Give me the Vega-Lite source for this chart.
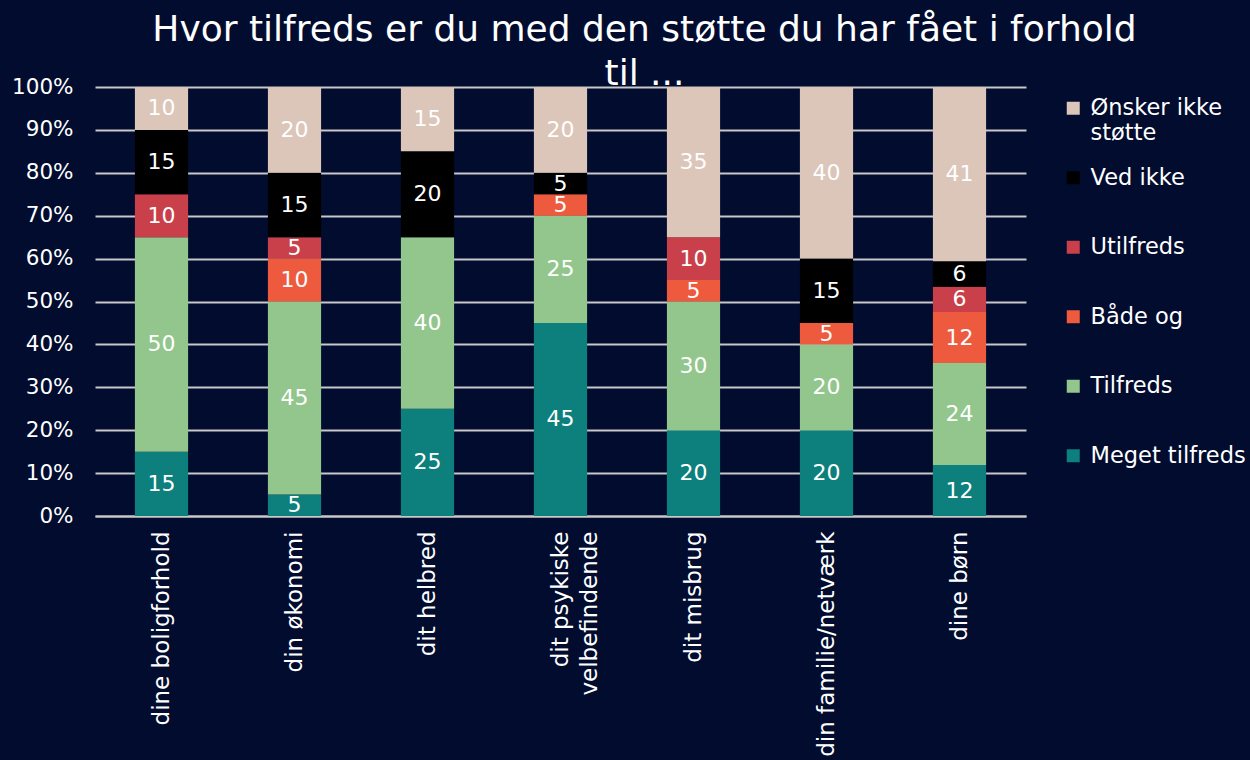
{
  "$schema": "https://vega.github.io/schema/vega-lite/v6.json",
  "width": 931,
  "height": 429,
  "autosize": {"type": "none"},
  "padding": {"left": 95, "top": 87, "right": 224, "bottom": 244},
  "background": "#010c2e",
  "config": {
    "font": "DejaVu Sans",
    "view": {"stroke": null},
    "axis": {"labelColor": "#ffffff", "titleColor": "#ffffff"}
  },
  "title": {
    "text": ["Hvor tilfreds er du med den støtte du har fået i forhold", "til ..."],
    "fontSize": 36,
    "fontWeight": "normal",
    "color": "#ffffff",
    "anchor": "middle",
    "dx": 84,
    "offset": -17,
    "lineHeight": 44
  },
  "data": {
    "values": [
      {"omraade": "dine boligforhold", "svar": "Meget tilfreds", "niveau": 1, "andel": 15},
      {"omraade": "dine boligforhold", "svar": "Tilfreds", "niveau": 2, "andel": 50},
      {"omraade": "dine boligforhold", "svar": "Utilfreds", "niveau": 4, "andel": 10},
      {"omraade": "dine boligforhold", "svar": "Ved ikke", "niveau": 5, "andel": 15},
      {"omraade": "dine boligforhold", "svar": "Ønsker ikke støtte", "niveau": 6, "andel": 10},
      {"omraade": "din økonomi", "svar": "Meget tilfreds", "niveau": 1, "andel": 5},
      {"omraade": "din økonomi", "svar": "Tilfreds", "niveau": 2, "andel": 45},
      {"omraade": "din økonomi", "svar": "Både og", "niveau": 3, "andel": 10},
      {"omraade": "din økonomi", "svar": "Utilfreds", "niveau": 4, "andel": 5},
      {"omraade": "din økonomi", "svar": "Ved ikke", "niveau": 5, "andel": 15},
      {"omraade": "din økonomi", "svar": "Ønsker ikke støtte", "niveau": 6, "andel": 20},
      {"omraade": "dit helbred", "svar": "Meget tilfreds", "niveau": 1, "andel": 25},
      {"omraade": "dit helbred", "svar": "Tilfreds", "niveau": 2, "andel": 40},
      {"omraade": "dit helbred", "svar": "Ved ikke", "niveau": 5, "andel": 20},
      {"omraade": "dit helbred", "svar": "Ønsker ikke støtte", "niveau": 6, "andel": 15},
      {"omraade": "dit psykiske velbefindende", "svar": "Meget tilfreds", "niveau": 1, "andel": 45},
      {"omraade": "dit psykiske velbefindende", "svar": "Tilfreds", "niveau": 2, "andel": 25},
      {"omraade": "dit psykiske velbefindende", "svar": "Både og", "niveau": 3, "andel": 5},
      {"omraade": "dit psykiske velbefindende", "svar": "Ved ikke", "niveau": 5, "andel": 5},
      {"omraade": "dit psykiske velbefindende", "svar": "Ønsker ikke støtte", "niveau": 6, "andel": 20},
      {"omraade": "dit misbrug", "svar": "Meget tilfreds", "niveau": 1, "andel": 20},
      {"omraade": "dit misbrug", "svar": "Tilfreds", "niveau": 2, "andel": 30},
      {"omraade": "dit misbrug", "svar": "Både og", "niveau": 3, "andel": 5},
      {"omraade": "dit misbrug", "svar": "Utilfreds", "niveau": 4, "andel": 10},
      {"omraade": "dit misbrug", "svar": "Ønsker ikke støtte", "niveau": 6, "andel": 35},
      {"omraade": "din familie/netværk", "svar": "Meget tilfreds", "niveau": 1, "andel": 20},
      {"omraade": "din familie/netværk", "svar": "Tilfreds", "niveau": 2, "andel": 20},
      {"omraade": "din familie/netværk", "svar": "Både og", "niveau": 3, "andel": 5},
      {"omraade": "din familie/netværk", "svar": "Ved ikke", "niveau": 5, "andel": 15},
      {"omraade": "din familie/netværk", "svar": "Ønsker ikke støtte", "niveau": 6, "andel": 40},
      {"omraade": "dine børn", "svar": "Meget tilfreds", "niveau": 1, "andel": 12},
      {"omraade": "dine børn", "svar": "Tilfreds", "niveau": 2, "andel": 24},
      {"omraade": "dine børn", "svar": "Både og", "niveau": 3, "andel": 12},
      {"omraade": "dine børn", "svar": "Utilfreds", "niveau": 4, "andel": 6},
      {"omraade": "dine børn", "svar": "Ved ikke", "niveau": 5, "andel": 6},
      {"omraade": "dine børn", "svar": "Ønsker ikke støtte", "niveau": 6, "andel": 41}
    ]
  },
  "encoding": {
    "x": {
      "field": "omraade",
      "type": "nominal",
      "sort": null,
      "title": null,
      "scale": {"paddingInner": 0.6, "paddingOuter": 0.3},
      "axis": {
        "labelAngle": -90,
        "labelFontSize": 23,
        "labelPadding": 15,
        "ticks": false,
        "domainColor": "#c8c8c8",
        "domainWidth": 2,
        "labelLimit": 400,
        "labelLineHeight": 29,
        "labelExpr": "datum.value == 'dit psykiske velbefindende' ? ['dit psykiske', 'velbefindende'] : datum.value"
      }
    },
    "y": {
      "field": "andel",
      "type": "quantitative",
      "stack": "normalize",
      "title": null,
      "scale": {"domain": [0, 1], "nice": false},
      "axis": {
        "values": [0, 0.1, 0.2, 0.3, 0.4, 0.5, 0.6, 0.7, 0.8, 0.9, 1],
        "format": ".0%",
        "labelFontSize": 21.5,
        "labelPadding": 22,
        "ticks": false,
        "domain": false,
        "gridColor": "#c8c8c8",
        "gridWidth": 2
      }
    },
    "order": {"field": "niveau", "type": "quantitative", "sort": "ascending"}
  },
  "layer": [
    {
      "mark": {"type": "bar"},
      "encoding": {
        "color": {
          "field": "svar",
          "type": "nominal",
          "scale": {
            "domain": ["Ønsker ikke støtte", "Ved ikke", "Utilfreds", "Både og", "Tilfreds", "Meget tilfreds"],
            "range": ["#dcc5b9", "#000000", "#c9404a", "#ee5a3e", "#93c68c", "#0d7f7c"]
          },
          "legend": {
            "title": null,
            "orient": "right",
            "offset": 26,
            "padding": 10,
            "symbolType": "square",
            "symbolSize": 169,
            "symbolStrokeWidth": 0,
            "labelFontSize": 22.5,
            "labelColor": "#ffffff",
            "labelLimit": 300,
            "gridAlign": "all",
            "rowPadding": 21.5,
            "labelOffset": 6,
            "labelExpr": "datum.label == 'Ønsker ikke støtte' ? ['Ønsker ikke', 'støtte'] : datum.label"
          }
        }
      }
    },
    {
      "mark": {"type": "text", "color": "#ffffff", "fontSize": 22, "baseline": "middle"},
      "encoding": {
        "y": {"field": "andel", "type": "quantitative", "stack": "normalize", "bandPosition": 0.5},
        "text": {"field": "andel", "type": "quantitative", "format": "d"}
      }
    }
  ]
}
